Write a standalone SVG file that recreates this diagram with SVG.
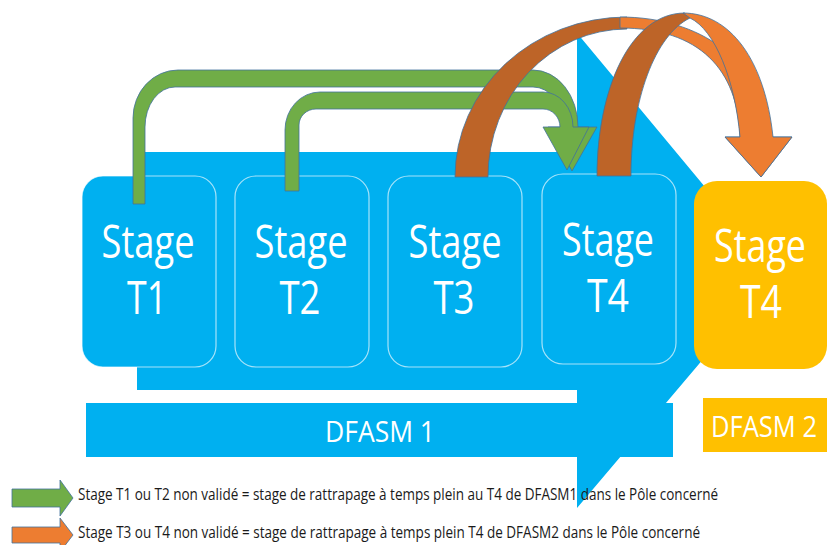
<svg xmlns="http://www.w3.org/2000/svg" width="827" height="545" viewBox="0 0 827 545">
<style>
.bg{fill:#00B0F0}
.box{fill:#00B0F0;stroke:#ffffff;stroke-opacity:0.65;stroke-width:1.2}
.ybox{fill:#FFC000}
.big{font-family:"Open Sans","Liberation Sans",sans-serif;font-size:45px;fill:#ffffff;text-anchor:middle}
.band{font-family:"Open Sans","Liberation Sans",sans-serif;font-size:30px;fill:#ffffff;text-anchor:middle}
.leg{font-family:"Open Sans","Liberation Sans",sans-serif;font-size:16px;fill:#1a1a1a}
.ol{stroke:#41719C;stroke-width:0.8;stroke-linejoin:round}
.green{fill:#70AD47}
.orange{fill:#ED7D31}
.brown{fill:#BD6428}
</style>
<rect width="827" height="545" fill="#ffffff"/>
<g id="background">
  <polygon class="bg" points="137,152 577,152 577,33 710,193 710,351 577,508 577,390 137,390"/>
  <rect class="bg" x="86" y="403" width="587" height="54"/>
  <rect class="ybox" x="703" y="398" width="124" height="54"/>
</g>
<g id="band-labels">
  <text class="band" x="380" y="442" textLength="110" lengthAdjust="spacingAndGlyphs">DFASM 1</text>
  <text class="band" x="764" y="437" textLength="106" lengthAdjust="spacingAndGlyphs">DFASM 2</text>
</g>
<g id="stage-t1">
  <rect class="box" x="82" y="176" width="134" height="191" rx="21"/>
  <text class="big" x="148" y="258" textLength="93" lengthAdjust="spacingAndGlyphs">Stage</text>
  <text class="big" x="147" y="314" textLength="40" lengthAdjust="spacingAndGlyphs">T1</text>
</g>
<g id="stage-t2">
  <rect class="box" x="235" y="176" width="134" height="191" rx="21"/>
  <text class="big" x="301" y="258" textLength="93" lengthAdjust="spacingAndGlyphs">Stage</text>
  <text class="big" x="300" y="314" textLength="41" lengthAdjust="spacingAndGlyphs">T2</text>
</g>
<g id="stage-t3">
  <rect class="box" x="388" y="176" width="134" height="191" rx="21"/>
  <text class="big" x="455" y="258" textLength="93" lengthAdjust="spacingAndGlyphs">Stage</text>
  <text class="big" x="454" y="314" textLength="41" lengthAdjust="spacingAndGlyphs">T3</text>
</g>
<g id="stage-t4">
  <rect class="box" x="542" y="174" width="134" height="190" rx="21"/>
  <text class="big" x="608" y="256" textLength="92" lengthAdjust="spacingAndGlyphs">Stage</text>
  <text class="big" x="608" y="312" textLength="42" lengthAdjust="spacingAndGlyphs">T4</text>
</g>
<g id="stage-t4-dfasm2">
  <rect class="ybox" x="694" y="181" width="133" height="188" rx="23"/>
  <text class="big" x="760" y="262" textLength="92" lengthAdjust="spacingAndGlyphs">Stage</text>
  <text class="big" x="761" y="318" textLength="42" lengthAdjust="spacingAndGlyphs">T4</text>
</g>
<g id="connectors">
  <path class="green ol" d="M133,204 L133,118 A45,48 0 0 1 178,70 L533,70 A45,57 0 0 1 578,127 L597,127 L572,171 L548,127 L564,127 A31,40 0 0 0 533,87 L175,87 A30,40 0 0 0 145,127 L145,204 Z"/>
  <path class="green ol" d="M285,191 L285,130 A35,38 0 0 1 320,92 L543,92 A30,35 0 0 1 573,127 L589,127 L567,170 L543,127 L560,127 A17,18 0 0 0 543,109 L316,109 A17,16 0 0 0 299,125 L299,191 Z"/>
  <path class="brown ol" d="M455,177 A172,160 0 0 1 627,17 L627,29 A139,148 0 0 0 488,177 Z"/>
  <path class="orange ol" d="M620,17 C700,17 762,60 772,137 L792,137 L761,177 L725,137 L740,137 C738,70 700,28 620,28 Z"/>
  <path class="brown ol" d="M597,176 C597,90 630,13 685,13 L690,18 C655,35 631,100 631,176 Z"/>
  <path class="orange ol" d="M683,13 C730,13 765,60 773,137 L792,137 L761,177 L725,137 L740,137 C735,80 715,30 690,18 Z"/>
</g>
<g id="legend">
  <polygon class="green ol" points="12,489 60,489 60,480 73,498 60,516 60,507 12,507"/>
  <text class="leg" x="78" y="500" textLength="640" lengthAdjust="spacingAndGlyphs">Stage T1 ou T2 non validé = stage de rattrapage à temps plein au T4 de DFASM1 dans le Pôle concerné</text>
  <polygon class="orange ol" points="12,527 60,527 60,518 73,535 60,552 60,543 12,543"/>
  <text class="leg" x="78" y="538" textLength="622" lengthAdjust="spacingAndGlyphs">Stage T3 ou T4 non validé = stage de rattrapage à temps plein T4 de DFASM2 dans le Pôle concerné</text>
</g>
</svg>
